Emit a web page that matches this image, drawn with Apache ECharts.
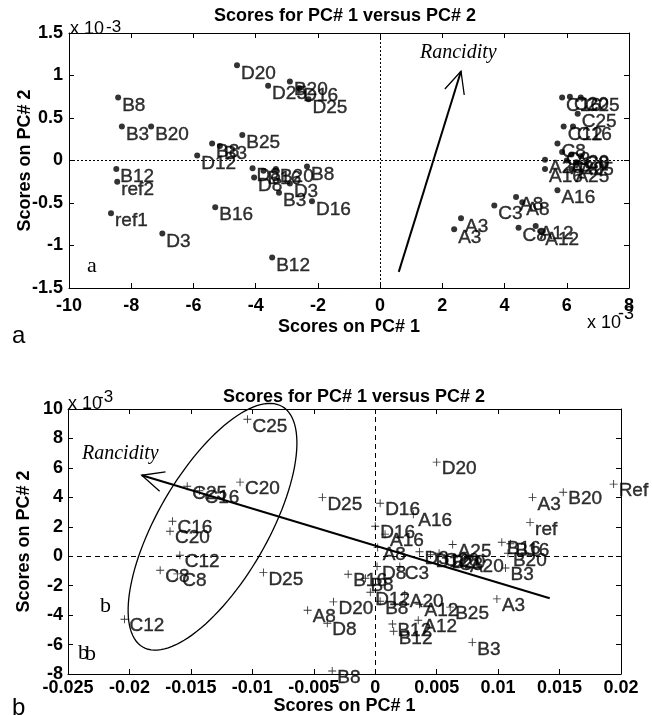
<!DOCTYPE html>
<html>
<head>
<meta charset="utf-8">
<script src="https://cdn.jsdelivr.net/npm/echarts@6/dist/echarts.min.js"></script>
<style>
  html, body { margin: 0; padding: 0; background: #fff; }
  #chart { width: 652px; height: 715px; }
</style>
</head>
<body>
<div id="chart"></div>
<script>
// panel a : scores (x 10^-3)
const namesA = ['B8','B3','B20','B12','ref2','ref1','D3','B16','B12','D16',
  'D20','D25','B20','D16','D25','B25','B8','B3','D12',
  'D8','B16','B20','B8','D8','D3','B3',
  'C16','C20','C25','C25','C12','C16','C8','C3','A20','C8','A20','A25',
  'A20','A16','A25','A16','A8','A8','C3','A3','A3','C8','A12','A12'];
const pc1A = [-8.42,-8.3,-7.36,-8.48,-8.45,-8.65,-7.0,-5.3,-3.47,-2.19,
  -4.6,-3.6,-2.9,-2.6,-2.3,-4.43,-5.4,-5.15,-5.88,
  -4.1,-3.75,-3.35,-2.35,-4.05,-2.9,-3.25,
  5.85,6.1,6.45,6.35,5.9,6.2,5.7,5.85,6.15,6.45,6.0,6.3,
  5.3,5.3,6.15,5.7,4.37,4.57,3.67,2.6,2.38,4.45,5.0,5.18];
const pc2A = [0.74,0.40,0.40,-0.10,-0.25,-0.62,-0.86,-0.55,-1.14,-0.48,
  1.12,0.88,0.93,0.85,0.72,0.30,0.20,0.17,0.06,
  -0.09,-0.12,-0.10,-0.07,-0.20,-0.27,-0.38,
  0.74,0.75,0.74,0.55,0.40,0.40,0.20,0.10,0.07,0.05,0.0,-0.02,
  0.01,-0.10,-0.10,-0.35,-0.43,-0.49,-0.53,-0.68,-0.81,-0.79,-0.77,-0.84];

// panel b : PC1 scores, PC2 scores (x 10^-3)
const namesB = ['C25','C20','C25','C16','C16','C20','C12','C8','C8','C12',
  'D25','A8','D25','D16','A16','D16','A16','A8','B16','B8',
  'D8','C3','D12','B8','A20','A12','B25','A12','B12','B12',
  'A3','B3','B8','D20','D8','A25','A20',
  'D3','D12','C20','B20','C3',
  'B16','B16','B20','B3','D20','A3','B20','Ref','ref'];
const pc1B = [-0.0104,-0.0110,-0.0153,-0.0143,-0.0165,-0.0167,-0.0159,-0.0175,-0.0161,-0.0204,
  -0.0091,-0.0055,-0.0043,0.0004,0.0031,0.0000,0.0008,0.0002,-0.0022,-0.0008,
  0.00015,0.0020,-0.0004,0.0004,0.0024,0.0036,0.0061,0.0035,0.0014,0.0015,
  0.0099,0.0079,-0.0035,-0.0034,-0.0039,0.0063,0.0073,
  0.0036,0.0045,0.0052,0.0058,0.0064,
  0.0103,0.0110,0.0108,0.0106,0.0050,0.0128,0.0153,0.0194,0.0126];
const pc2B = [9.3,5.03,4.75,4.45,2.38,1.7,0.07,-0.95,-1.2,-4.28,
  -1.1,-3.67,4.0,3.6,2.85,2.04,1.5,0.6,-1.22,-1.5,
  -0.7,-0.7,-2.45,-3.06,-2.6,-3.26,-3.46,-4.35,-4.6,-5.1,
  -2.9,-5.85,-7.8,-3.1,-4.55,0.8,-0.25,
  0.3,0.1,0.2,0.0,-0.1,
  0.95,0.85,0.2,-0.8,6.39,4.0,4.35,4.9,2.3];

// annotation anchors (data coords)
const arrowA = [[0.6, -1.31], [2.6, 1.05]];
const arrowB = [[0.0142, -2.85], [-0.019, 5.5]];
const ellipseB = { center: [-0.01324, 2.0], a: 139, b: 55, angle: 59.9 };

const FONT = "'Liberation Sans', Arial, sans-serif";
const SERIF = "'Liberation Serif', 'Times New Roman', serif";

const toData = (names, xs, ys) => names.map((n, i) => ({ name: n, value: [xs[i], ys[i]] }));

function axisPair(grid, min, max, interval, isX, margin) {
  const base = {
    gridIndex: grid, min: min, max: max, interval: interval,
    splitLine: { show: false },
    axisLine: { onZero: false, lineStyle: { color: '#000', width: 1 } },
    axisTick: { inside: true, length: 5, lineStyle: { color: '#000' } }
  };
  return [
    Object.assign({}, base, {
      position: isX ? 'bottom' : 'left',
      axisLabel: { color: '#000', fontFamily: FONT, fontWeight: 'bold', fontSize: 18, margin: margin }
    }),
    Object.assign({}, base, {
      position: isX ? 'top' : 'right',
      axisLabel: { show: false }
    })
  ];
}

const xA = axisPair(0, -10, 8, 2, true, 9);
const yA = axisPair(0, -1.5, 1.5, 0.5, false, 6);
const xB = axisPair(1, -0.025, 0.02, 0.005, true, 5);
const yB = axisPair(1, -8, 10, 2, false, 5);

const nameStyle = { color: '#000', fontFamily: FONT, fontWeight: 'bold', fontSize: 18 };
const nameCfg = (text, gap) => ({
  name: text, nameLocation: 'middle', nameGap: gap, nameMoveOverlap: false, nameTextStyle: nameStyle
});
Object.assign(xA[0], nameCfg('Scores on PC# 1', 30));
Object.assign(yA[0], nameCfg('Scores on PC# 2', 35));
Object.assign(xB[0], nameCfg('Scores on PC# 1', 23));
Object.assign(yB[0], nameCfg('Scores on PC# 2', 35));

const labelCfg = (dy) => ({
  show: true, position: 'right', distance: 1, offset: [0, dy],
  formatter: '{b}', color: '#000', fontFamily: FONT, fontSize: 19,
  textBorderColor: '#000', textBorderWidth: 0.4
});

const chart = echarts.init(document.getElementById('chart'));
chart.setOption({
  animation: false,
  backgroundColor: '#fff',
  grid: [
    { left: 69, top: 33, width: 560, height: 255, outerBoundsMode: 'none' },
    { left: 68, top: 409, width: 553, height: 265, outerBoundsMode: 'none' }
  ],
  xAxis: [xA[0], xA[1], xB[0], xB[1]],
  yAxis: [yA[0], yA[1], yB[0], yB[1]],
  series: [
    {
      type: 'scatter', xAxisIndex: 0, yAxisIndex: 0,
      data: toData(namesA, pc1A, pc2A),
      symbol: 'circle', symbolSize: 6,
      itemStyle: { color: '#000' },
      label: labelCfg(8),
      markLine: {
        silent: true, symbol: 'none', label: { show: false },
        lineStyle: { color: '#000', type: [2, 2], width: 1 },
        data: [{ xAxis: 0 }, { yAxis: 0 }]
      }
    },
    {
      type: 'scatter', xAxisIndex: 2, yAxisIndex: 2,
      data: toData(namesB, pc1B, pc2B),
      symbol: 'path://M4,0h1v4h4v1h-4v4h-1v-4h-4v-1h4z', symbolSize: 8,
      itemStyle: { color: '#000' },
      label: labelCfg(7),
      markLine: {
        silent: true, symbol: 'none', label: { show: false },
        lineStyle: { color: '#000', type: [5, 4], width: 1 },
        data: [{ xAxis: 0 }, { yAxis: 0 }]
      }
    }
  ]
});

// annotations in pixel space
function arrow(grid, pts) {
  const p0 = chart.convertToPixel({ gridIndex: grid }, pts[0]);
  const p1 = chart.convertToPixel({ gridIndex: grid }, pts[1]);
  const ang = Math.atan2(p0[1] - p1[1], p0[0] - p1[0]);
  const len = 24, spread = 25 * Math.PI / 180;
  const w1 = [p1[0] + len * Math.cos(ang + spread), p1[1] + len * Math.sin(ang + spread)];
  const w2 = [p1[0] + len * Math.cos(ang - spread), p1[1] + len * Math.sin(ang - spread)];
  return [
    { type: 'polyline', shape: { points: [p0, p1] }, style: { stroke: '#000', lineWidth: 2, fill: null } },
    { type: 'polyline', shape: { points: [w1, p1, w2] }, style: { stroke: '#000', lineWidth: 1.3, fill: null } }
  ];
}

function ellipse(grid, e) {
  const c = chart.convertToPixel({ gridIndex: grid }, e.center);
  const th = e.angle * Math.PI / 180;
  const ux = Math.cos(th), uy = -Math.sin(th);
  const vx = Math.sin(th), vy = Math.cos(th);
  const pts = [];
  for (let k = 0; k <= 120; k++) {
    const t = k / 120 * 2 * Math.PI;
    const ca = e.a * Math.cos(t), sb = e.b * Math.sin(t);
    pts.push([c[0] + ca * ux + sb * vx, c[1] + ca * uy + sb * vy]);
  }
  return { type: 'polyline', shape: { points: pts }, style: { stroke: '#000', lineWidth: 1.3, fill: null } };
}

const txt = (x, y, text, font, extra) => ({
  type: 'text', x: x, y: y,
  style: Object.assign({ text: text, font: font, fill: '#000', textVerticalAlign: 'middle' }, extra || {})
});

chart.setOption({
  graphic: [
    txt(345, 16, 'Scores for PC# 1 versus PC# 2', 'bold 18px ' + FONT, { textAlign: 'center' }),
    txt(354, 397, 'Scores for PC# 1 versus PC# 2', 'bold 18px ' + FONT, { textAlign: 'center' }),
    txt(70, 29, 'x 10', '18px ' + FONT),
    txt(106, 27, '-3', '17px ' + FONT),
    txt(587, 323, 'x 10', '18px ' + FONT),
    txt(618, 314, '-3', '18px ' + FONT),
    txt(68, 404, 'x 10', '18px ' + FONT),
    txt(98, 397, '-3', '17px ' + FONT),
    txt(12, 336, 'a', '24px ' + FONT),
    txt(12, 708, 'b', '24px ' + FONT),
    txt(87, 266, 'a', '22px ' + SERIF),
    txt(100, 606, 'b', '22px ' + SERIF),
    txt(78, 653, 'b', '22px ' + SERIF),
    txt(85, 654, 'b', '22px ' + SERIF),
    txt(420, 53, 'Rancidity', 'italic 20px ' + SERIF),
    txt(82, 454, 'Rancidity', 'italic 20px ' + SERIF)
  ].concat(arrow(0, arrowA), arrow(1, arrowB), [ellipse(1, ellipseB)])
});
</script>
</body>
</html>
